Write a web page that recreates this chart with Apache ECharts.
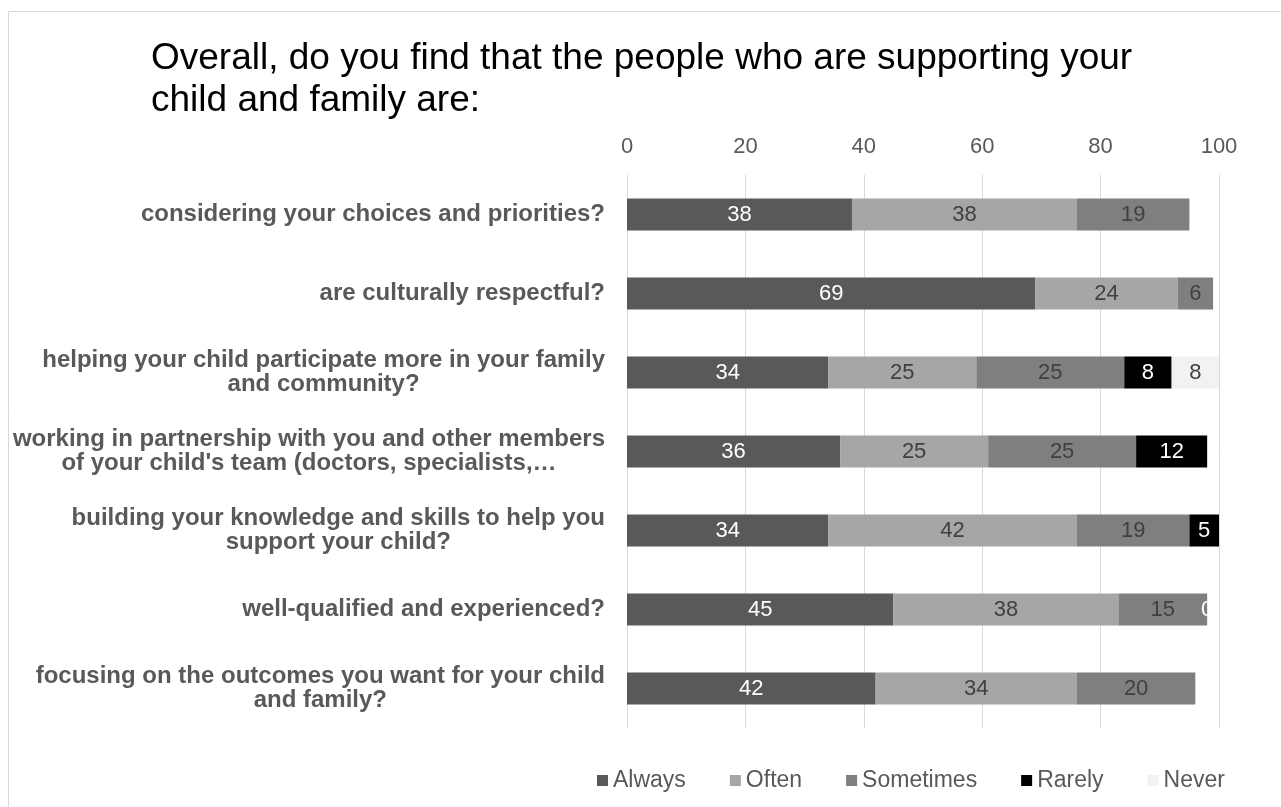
<!DOCTYPE html>
<html>
<head>
<meta charset="utf-8">
<title>Support experience</title>
<script src="https://cdn.jsdelivr.net/npm/echarts@6/dist/echarts.min.js"></script>
<style>
  html, body { margin: 0; padding: 0; background: #ffffff; }
  #chart { width: 1281px; height: 807px; }
</style>
</head>
<body>
<div id="chart"></div>
<script>
// Survey statements, listed top to bottom
const categories = [
  'considering your choices and priorities?',
  'are culturally respectful?',
  'helping your child participate more in your family\nand community?',
  'working in partnership with you and other members\nof your child\'s team (doctors, specialists,…',
  'building your knowledge and skills to help you\nsupport your child?',
  'well-qualified and experienced?',
  'focusing on the outcomes you want for your child\nand family?'
];

// Percentage of responses for each answer
const always    = [38, 69, 34, 36, 34, 45, 42];
const often     = [38, 24, 25, 25, 42, 38, 34];
const sometimes = [19, 6, 25, 25, 19, 15, 20];
const rarely    = [null, null, 8, 12, 5, 0, null];
const never     = [null, null, 8, null, null, null, null];

const seriesNames = ['Always', 'Often', 'Sometimes', 'Rarely', 'Never'];
const xTicks = [0, 20, 40, 60, 80, 100];

const FONT = '"Liberation Sans", Arial, sans-serif';

const seriesDefs = [
  { name: seriesNames[0], data: always,    color: '#595959', label: '#ffffff' },
  { name: seriesNames[1], data: often,     color: '#a6a6a6', label: '#404040' },
  { name: seriesNames[2], data: sometimes, color: '#7f7f7f', label: '#404040' },
  { name: seriesNames[3], data: rarely,    color: '#000000', label: '#ffffff' },
  { name: seriesNames[4], data: never,     color: '#f2f2f2', label: '#404040' }
];

const chart = echarts.init(document.getElementById('chart'), null, { renderer: 'canvas' });

chart.setOption({
  animation: false,
  backgroundColor: '#ffffff',
  textStyle: { fontFamily: FONT },
  title: {
    text: 'Overall, do you find that the people who are supporting your\nchild and family are:',
    left: 151,
    top: 38,
    padding: 0,
    textStyle: {
      fontFamily: FONT,
      fontSize: 37,
      fontWeight: 'normal',
      color: '#000000',
      lineHeight: 42
    }
  },
  graphic: [{
    type: 'rect',
    shape: { x: 8.5, y: 11.5, width: 1400, height: 900 },
    style: { fill: 'none', stroke: '#d9d9d9', lineWidth: 1 },
    silent: true,
    z: -10
  }],
  legend: {
    data: seriesNames,
    left: 597,
    top: 769,
    padding: 0,
    icon: 'rect',
    itemWidth: 11,
    itemHeight: 11,
    itemGap: 44,
    textStyle: { fontFamily: FONT, fontSize: 23, color: '#595959' }
  },
  grid: { left: 627, right: 62, top: 175, bottom: 79, containLabel: false },
  xAxis: {
    type: 'value',
    position: 'top',
    min: xTicks[0],
    max: xTicks[xTicks.length - 1],
    interval: xTicks[1] - xTicks[0],
    axisLine: { show: false },
    axisTick: { show: false },
    axisLabel: { fontFamily: FONT, fontSize: 22, color: '#595959', margin: 17 },
    splitLine: { show: true, lineStyle: { color: '#d9d9d9', width: 1 } }
  },
  yAxis: {
    type: 'category',
    data: categories,
    inverse: true,
    axisLine: { show: false },
    axisTick: { show: false },
    axisLabel: {
      margin: 22,
      align: 'right',
      formatter: function (v) {
        return v.split('\n').map(function (line) { return '{c|' + line + '}'; }).join('\n');
      },
      rich: {
        c: {
          align: 'center',
          fontFamily: FONT,
          fontSize: 24,
          fontWeight: 'bold',
          color: '#595959',
          lineHeight: 24
        }
      }
    }
  },
  series: seriesDefs.map(function (s) {
    return {
      name: s.name,
      type: 'bar',
      stack: 'total',
      barWidth: 32,
      data: s.data,
      itemStyle: { color: s.color },
      label: {
        show: true,
        position: 'inside',
        fontFamily: FONT,
        fontSize: 22,
        color: s.label,
        formatter: function (p) { return p.value == null ? '' : String(p.value); }
      }
    };
  })
});
</script>
</body>
</html>
